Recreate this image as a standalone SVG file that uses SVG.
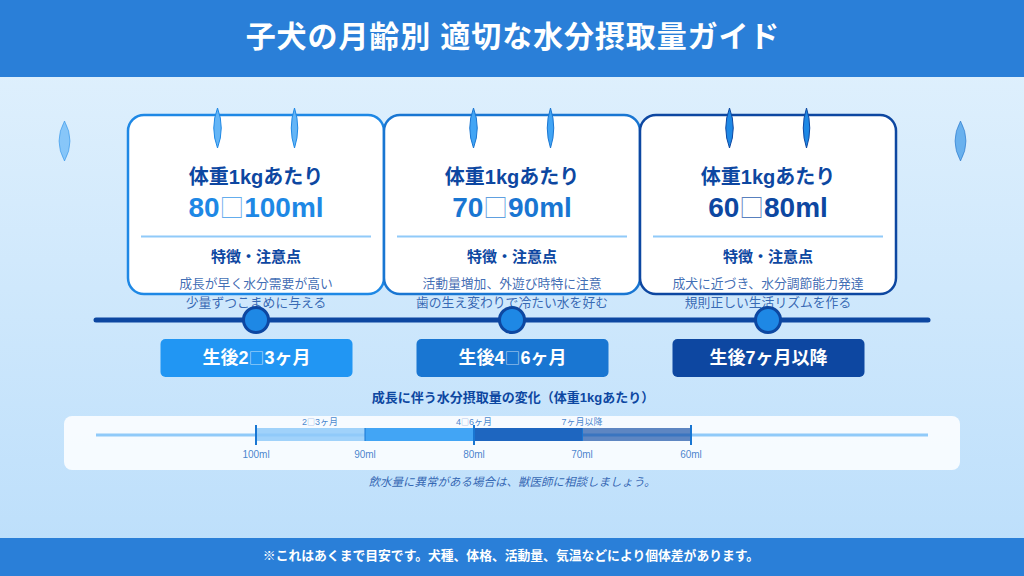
<svg xmlns="http://www.w3.org/2000/svg" width="1024" height="576" viewBox="0 0 1024 576">
<style>
text{font-family:"Liberation Sans","Noto Sans CJK JP",sans-serif;text-anchor:middle}
.card{fill:#fff;stroke-width:2.5}
.wt{font-size:20px;font-weight:700;fill:#0d47a1}
.amt{font-size:28px;font-weight:700}
.div{stroke:#90caf9;stroke-width:2}
.feat{font-size:15px;font-weight:700;fill:#0d47a1}
.desc{font-size:12.800px;fill:#0d47a1;fill-opacity:.8}
.lab{font-size:18px;font-weight:700;fill:#fff}
.tick{font-size:10px;fill:#1565c0;fill-opacity:.8}
.small{font-size:9px}
.tofu{font-family:"Noto Sans CJK JP",sans-serif;font-size:.88em;font-weight:400;fill-opacity:.7}
.dot{fill:#1e88e5;stroke:#0d47a1;stroke-width:3}
</style>
<defs>
<linearGradient id="bg" x1="0" y1="0" x2="0" y2="1"><stop offset="0" stop-color="#e3f2fd"/><stop offset="1" stop-color="#bbdefb"/></linearGradient>
</defs>
<rect width="1024" height="576" fill="url(#bg)"/>
<rect width="1024" height="77" fill="#2a7fd8"/>
<rect y="538" width="1024" height="38" fill="#2a7fd8"/>
<text x="513" y="47" font-size="30" font-weight="700" fill="#fff" letter-spacing=".9">子犬の月齢別 適切な水分摂取量ガイド</text>
<g id="side-drops">
<path d="M64.500 121Q53.500 141 64.500 161Q75.500 141 64.500 121Z" fill="#64b5f6" fill-opacity=".7" stroke="#1e88e5" stroke-opacity=".5"/>
<path d="M960.500 121Q949.500 141 960.500 161Q971.500 141 960.500 121Z" fill="#1e88e5" fill-opacity=".6" stroke="#1565c0" stroke-opacity=".5"/>
</g>
<g id="node-1">
<rect class="card" x="128" y="115" width="256" height="179" rx="16" stroke="#1e88e5"/>
<path d="M217.500 108Q210 128 217.500 148Q225 128 217.500 108Z" fill="#64b5f6" stroke="#1e88e5"/>
<path d="M294.500 108Q288 128 294.500 148Q301 128 294.500 108Z" fill="#64b5f6" stroke="#1e88e5"/>
<text class="wt" x="256" y="184">体重1kgあたり</text>
<text class="amt" x="256" y="217" fill="#1e88e5">80<tspan class="tofu">□</tspan>100ml</text>
<line class="div" x1="141" y1="236.500" x2="371" y2="236.500"/>
<text class="feat" x="256" y="262">特徴・注意点</text>
<text class="desc" x="256" y="288">成長が早く水分需要が高い</text>
<text class="desc" x="256" y="307">少量ずつこまめに与える</text>
</g>
<g id="node-2">
<rect class="card" x="384" y="115" width="256" height="179" rx="16" stroke="#1976d2"/>
<path d="M473.500 108Q466 128 473.500 148Q481 128 473.500 108Z" fill="#42a5f5" stroke="#1976d2"/>
<path d="M550.500 108Q544 128 550.500 148Q557 128 550.500 108Z" fill="#42a5f5" stroke="#1976d2"/>
<text class="wt" x="512" y="184">体重1kgあたり</text>
<text class="amt" x="512" y="217" fill="#1976d2">70<tspan class="tofu">□</tspan>90ml</text>
<line class="div" x1="397" y1="236.500" x2="627" y2="236.500"/>
<text class="feat" x="512" y="262">特徴・注意点</text>
<text class="desc" x="512" y="288">活動量増加、外遊び時特に注意</text>
<text class="desc" x="512" y="307">歯の生え変わりで冷たい水を好む</text>
</g>
<g id="node-3">
<rect class="card" x="640" y="115" width="256" height="179" rx="16" stroke="#0d47a1"/>
<path d="M729.500 108Q722 128 729.500 148Q737 128 729.500 108Z" fill="#1e88e5" stroke="#0d47a1"/>
<path d="M806.500 108Q800 128 806.500 148Q813 128 806.500 108Z" fill="#1e88e5" stroke="#0d47a1"/>
<text class="wt" x="768" y="184">体重1kgあたり</text>
<text class="amt" x="768" y="217" fill="#0d47a1">60<tspan class="tofu">□</tspan>80ml</text>
<line class="div" x1="653" y1="236.500" x2="883" y2="236.500"/>
<text class="feat" x="768" y="262">特徴・注意点</text>
<text class="desc" x="768" y="288">成犬に近づき、水分調節能力発達</text>
<text class="desc" x="768" y="307">規則正しい生活リズムを作る</text>
</g>
<g id="connectors">
<line x1="96" y1="320" x2="928" y2="320" stroke="#0d47a1" stroke-width="5" stroke-linecap="round"/>
</g>
<g id="timeline-dots">
<circle class="dot" cx="256" cy="320" r="12.500"/>
<circle class="dot" cx="512" cy="320" r="12.500"/>
<circle class="dot" cx="768" cy="320" r="12.500"/>
</g>
<g id="label-1"><rect x="160.500" y="339" width="192" height="38" rx="5" fill="#2196f3"/><text class="lab" x="256.500" y="364">生後2<tspan class="tofu">□</tspan>3ヶ月</text></g>
<g id="label-2"><rect x="416.500" y="339" width="192" height="38" rx="5" fill="#1976d2"/><text class="lab" x="512.500" y="364">生後4<tspan class="tofu">□</tspan>6ヶ月</text></g>
<g id="label-3"><rect x="672.500" y="339" width="192" height="38" rx="5" fill="#0d47a1"/><text class="lab" x="768.500" y="364">生後7ヶ月以降</text></g>
<text x="513" y="402" font-size="13" font-weight="700" fill="#0d47a1">成長に伴う水分摂取量の変化（体重1kgあたり）</text>
<g id="chart">
<rect x="64" y="416" width="896" height="54" rx="8" fill="#fff" fill-opacity=".85"/>
<line x1="96" y1="435" x2="928" y2="435" stroke="#90caf9" stroke-width="3"/>
<rect x="256" y="428" width="109" height="13" fill="#90caf9" fill-opacity=".85"/>
<rect x="365" y="428" width="109" height="13" fill="#42a5f5"/>
<rect x="474" y="428" width="108" height="13" fill="#1e66c0"/>
<rect x="582" y="428" width="109" height="13" fill="#0d47a1" fill-opacity=".65"/>
<g stroke="#1976d2">
<line x1="256" y1="425" x2="256" y2="445" stroke-width="2"/>
<line x1="365" y1="428" x2="365" y2="441"/>
<line x1="474" y1="425" x2="474" y2="445" stroke-width="2"/>
<line x1="582.500" y1="428" x2="582.500" y2="441"/>
<line x1="691" y1="425" x2="691" y2="445" stroke-width="2"/>
</g>
<text class="tick small" x="320" y="425">2<tspan class="tofu">□</tspan>3ヶ月</text>
<text class="tick small" x="474" y="425">4<tspan class="tofu">□</tspan>6ヶ月</text>
<text class="tick small" x="582" y="425">7ヶ月以降</text>
<text class="tick" x="256" y="458">100ml</text>
<text class="tick" x="365" y="458">90ml</text>
<text class="tick" x="474" y="458">80ml</text>
<text class="tick" x="582" y="458">70ml</text>
<text class="tick" x="691" y="458">60ml</text>
</g>
<text x="512" y="486" font-size="11.500" font-style="italic" fill="#0d47a1" fill-opacity=".8">飲水量に異常がある場合は、獣医師に相談しましょう。</text>
<text x="511" y="560" font-size="12.800" font-weight="700" fill="#fff">※これはあくまで目安です。犬種、体格、活動量、気温などにより個体差があります。</text>
</svg>
